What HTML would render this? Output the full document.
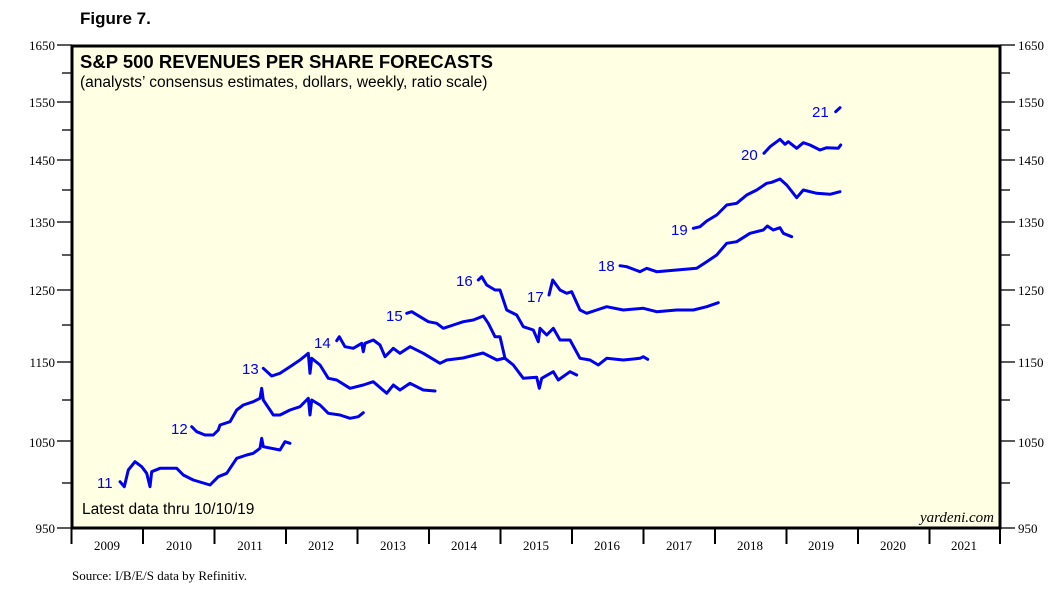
<!DOCTYPE html>
<html><head><meta charset="utf-8"><style>
html,body{margin:0;padding:0;background:#fff;}
svg{display:block;}
</style></head><body>
<svg width="1057" height="605" viewBox="0 0 1057 605" xmlns="http://www.w3.org/2000/svg">
<text x="80" y="24" font-family="Liberation Sans, sans-serif" font-weight="bold" font-size="17">Figure 7.</text>
<rect x="72" y="46" width="928" height="482" fill="#ffffe3" stroke="#000" stroke-width="3"/>
<text x="80" y="68" font-family="Liberation Sans, sans-serif" font-weight="bold" font-size="18.5">S&amp;P 500 REVENUES PER SHARE FORECASTS</text>
<text x="80" y="87" font-family="Liberation Sans, sans-serif" font-size="15.5">(analysts’ consensus estimates, dollars, weekly, ratio scale)</text>
<text x="82" y="514" font-family="Liberation Sans, sans-serif" font-size="15.5">Latest data thru 10/10/19</text>
<text x="994" y="522" text-anchor="end" font-family="Liberation Serif, serif" font-style="italic" font-size="15">yardeni.com</text>
<g font-family="Liberation Serif, serif" font-size="13" fill="#000">
<text x="55" y="50" text-anchor="end">1650</text><text x="1018" y="50">1650</text>
<text x="55" y="107" text-anchor="end">1550</text><text x="1018" y="107">1550</text>
<text x="55" y="165" text-anchor="end">1450</text><text x="1018" y="165">1450</text>
<text x="55" y="227" text-anchor="end">1350</text><text x="1018" y="227">1350</text>
<text x="55" y="295" text-anchor="end">1250</text><text x="1018" y="295">1250</text>
<text x="55" y="367" text-anchor="end">1150</text><text x="1018" y="367">1150</text>
<text x="55" y="447" text-anchor="end">1050</text><text x="1018" y="447">1050</text>
<text x="55" y="533" text-anchor="end">950</text><text x="1018" y="533">950</text>
</g>
<g stroke="#000" stroke-width="1.3">
<line x1="57" y1="45" x2="72" y2="45"/><line x1="1000" y1="45" x2="1015" y2="45"/>
<line x1="62" y1="73" x2="72" y2="73"/><line x1="1000" y1="73" x2="1010" y2="73"/>
<line x1="57" y1="102" x2="72" y2="102"/><line x1="1000" y1="102" x2="1015" y2="102"/>
<line x1="62" y1="130" x2="72" y2="130"/><line x1="1000" y1="130" x2="1010" y2="130"/>
<line x1="57" y1="160" x2="72" y2="160"/><line x1="1000" y1="160" x2="1015" y2="160"/>
<line x1="62" y1="190" x2="72" y2="190"/><line x1="1000" y1="190" x2="1010" y2="190"/>
<line x1="57" y1="222" x2="72" y2="222"/><line x1="1000" y1="222" x2="1015" y2="222"/>
<line x1="62" y1="255" x2="72" y2="255"/><line x1="1000" y1="255" x2="1010" y2="255"/>
<line x1="57" y1="290" x2="72" y2="290"/><line x1="1000" y1="290" x2="1015" y2="290"/>
<line x1="62" y1="325" x2="72" y2="325"/><line x1="1000" y1="325" x2="1010" y2="325"/>
<line x1="57" y1="362" x2="72" y2="362"/><line x1="1000" y1="362" x2="1015" y2="362"/>
<line x1="62" y1="400" x2="72" y2="400"/><line x1="1000" y1="400" x2="1010" y2="400"/>
<line x1="57" y1="441" x2="72" y2="441"/><line x1="1000" y1="441" x2="1015" y2="441"/>
<line x1="62" y1="483" x2="72" y2="483"/><line x1="1000" y1="483" x2="1010" y2="483"/>
<line x1="57" y1="528" x2="72" y2="528"/><line x1="1000" y1="528" x2="1015" y2="528"/>
</g>
<g stroke="#000" stroke-width="2">
<line x1="71.5" y1="529" x2="71.5" y2="544"/><line x1="143" y1="529" x2="143" y2="544"/>
<line x1="214.5" y1="529" x2="214.5" y2="544"/><line x1="286" y1="529" x2="286" y2="544"/>
<line x1="357.5" y1="529" x2="357.5" y2="544"/><line x1="429" y1="529" x2="429" y2="544"/>
<line x1="500.5" y1="529" x2="500.5" y2="544"/><line x1="572" y1="529" x2="572" y2="544"/>
<line x1="643.5" y1="529" x2="643.5" y2="544"/><line x1="715" y1="529" x2="715" y2="544"/>
<line x1="786.5" y1="529" x2="786.5" y2="544"/><line x1="858" y1="529" x2="858" y2="544"/>
<line x1="929.5" y1="529" x2="929.5" y2="544"/><line x1="1000" y1="529" x2="1000" y2="544"/>
</g>
<g font-family="Liberation Serif, serif" font-size="13" text-anchor="middle">
<text x="107" y="550">2009</text><text x="179" y="550">2010</text><text x="250" y="550">2011</text>
<text x="321" y="550">2012</text><text x="393" y="550">2013</text><text x="464" y="550">2014</text>
<text x="536" y="550">2015</text><text x="607" y="550">2016</text><text x="679" y="550">2017</text>
<text x="750" y="550">2018</text><text x="821" y="550">2019</text><text x="893" y="550">2020</text>
<text x="964" y="550">2021</text>
</g>
<text x="72" y="580" font-family="Liberation Serif, serif" font-size="13">Source: I/B/E/S data by Refinitiv.</text>
<g fill="none" stroke="#0000ee" stroke-width="3" stroke-linejoin="round" stroke-linecap="round">
<polyline points="120,481.7 124.3,486.7 128.3,470 135,461.7 141.7,466.7 146.7,473.3 150,486.7 151.7,471.7 160,468.3 176.7,468.3 183.3,475 193.3,480 210,485 218.3,476.7 226.7,473.3 236.7,458.3 246.7,455 253.3,453.3 260,448.3 261.7,438.3 263.3,446.7 280,450 285,441.7 290,443.3"/>
<polyline points="191.7,426.7 196.7,431.7 205,435 213.3,435 218.3,430 220,425 230,421.7 236.7,410 243.3,405 253.3,401.7 260,398.3 261.7,388.3 263.3,400 270,410 273.3,415 280,415 290,410 300,406.7 308.3,398.3 310,415 311.7,400 320,405 328.3,413.3 340,415 350,418.3 358.3,416.7 363.3,412.7"/>
<polyline points="263.3,368.3 271.7,376 280,373.3 290,366.7 300,360 308.3,353.3 310,373.3 311.7,358.3 320,365 328.3,378.3 336.7,380 350,388.3 363.3,385 373.3,381.7 386.7,393.3 393.3,385 400,390 410,383.3 423.3,390 435,391"/>
<polyline points="336.7,340.7 339.3,336.7 345,346.7 353.3,348.3 361.7,343.3 363.3,351.7 365,343.3 373.3,340 380,345 385,356.7 393.3,348.3 400,353.3 410,346.7 423.3,353.3 440,363.3 446.7,360 463,358 483,353 497,360 505,358"/>
<polyline points="406.7,313.3 411.7,311.7 420,316.7 428.3,321.7 436.7,323.3 443.3,328.3 453.3,325 463.3,321.7 473.3,320 483.3,316 488.3,323.3 495,336.7 500,336.7 505,358.3 513.3,365 523.3,378.3 536.7,377.3 539.3,388.3 541.7,378.3 553.3,371.7 558.3,380 570,371.7 576.7,375"/>
<polyline points="478.3,280 481.7,276.7 486.7,285 495,290 500,290 506.7,310 516.7,315 523.3,326.7 533.3,330 538.3,341.7 540,328.3 546.7,335 553.3,328.3 560,340 570,340 580,358.3 590,360 598.3,365 606.7,358.3 623.3,360 640,358.3 643.3,356.7 647.7,359.3"/>
<polyline points="549,295 552.7,280 560,290 566.7,293.3 571.7,291.7 580,310 586.7,313.3 596.7,310 606.7,306.7 623.3,310 643.3,308.3 656.7,311.7 676.7,310 693.3,310 706.7,306.7 718.3,302.7"/>
<polyline points="620,265.7 626.7,266.7 640,271.7 646.7,268.3 656.7,271.7 676.7,270 696.7,268.3 706.7,261.7 716.7,255 726.7,243.3 736.7,241.7 750,233.3 763.3,230 767.3,226 773.3,230 780,227.7 783.3,233.3 791.7,236.7"/>
<polyline points="693.3,228.3 700,226.7 706.7,221 716.7,215 726.7,205 736.7,203.3 746.7,195 756.7,190 766.7,183.3 771.7,182.3 780,179 786.7,185 796.7,197.7 803.3,190 816.7,193.3 830,194.3 840,191.7"/>
<polyline points="764,153.3 770,146.7 780,139.3 785,144.3 788.3,141.7 796.7,148.3 803.3,142.7 810,145 820,150 826.7,147.7 838.3,148.3 840.7,145"/>
<polyline points="835.7,111.7 840,107.7"/>
</g>
<g font-family="Liberation Sans, sans-serif" font-size="15" fill="#0000ee">
<text x="97" y="488">11</text><text x="171" y="434">12</text><text x="242" y="374">13</text>
<text x="314" y="348">14</text><text x="386" y="321">15</text><text x="456" y="286">16</text>
<text x="527" y="302">17</text><text x="598" y="271">18</text><text x="671" y="235">19</text>
<text x="741" y="160">20</text><text x="812" y="117">21</text>
</g>
</svg>
</body></html>
